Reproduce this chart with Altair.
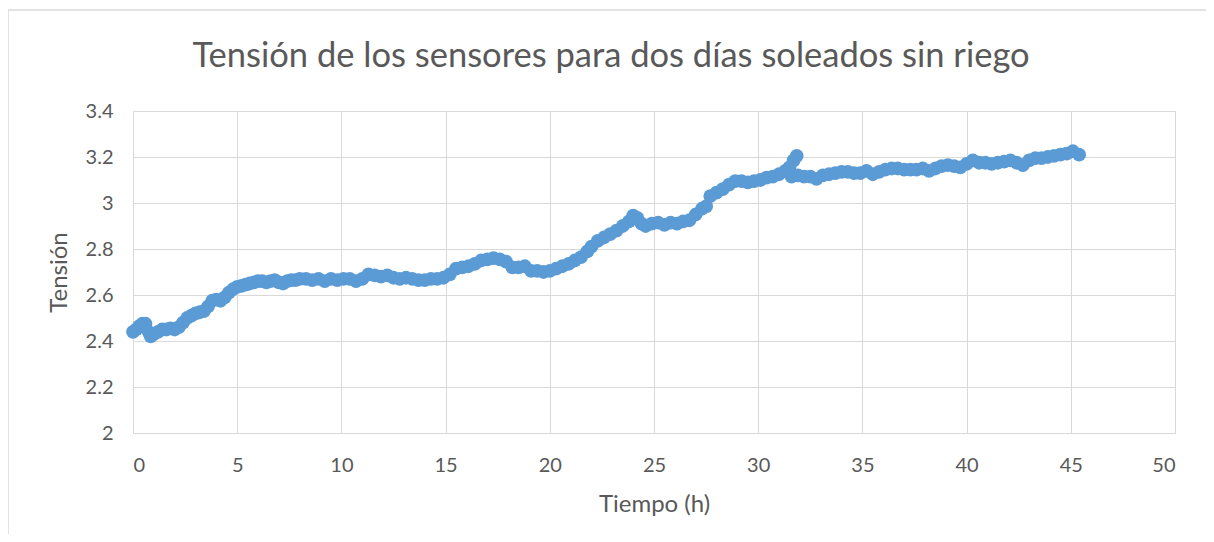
import altair as alt
import pandas as pd

tiempo = [0.0, 0.15, 0.3, 0.45, 0.6, 0.75, 0.85, 1.0, 1.2, 1.4, 1.6, 1.8, 2.0, 2.2, 2.4, 2.6, 2.8, 3.0, 3.2, 3.4,
          3.6, 3.8, 4.0, 4.2, 4.4, 4.6, 4.8, 5.0, 5.2, 5.4, 5.6, 5.8, 6.0, 6.2, 6.4, 6.6, 6.8, 7.0, 7.2, 7.4,
          7.6, 7.8, 8.0, 8.3, 8.6, 8.9, 9.2, 9.5, 9.8, 10.1, 10.4, 10.7, 11.0, 11.3, 11.6, 11.9, 12.2, 12.5, 12.8, 13.1,
          13.4, 13.7, 14.0, 14.3, 14.6, 14.9, 15.2, 15.5, 15.8, 16.1, 16.4, 16.7, 17.0, 17.3, 17.6, 17.9, 18.2, 18.5, 18.8, 19.1,
          19.4, 19.7, 20.0, 20.3, 20.6, 20.9, 21.2, 21.5, 21.8, 22.0, 22.3, 22.6, 22.9, 23.2, 23.5, 23.8, 24.0, 24.2, 24.4, 24.6,
          24.9, 25.2, 25.5, 25.8, 26.1, 26.4, 26.7, 27.0, 27.3, 27.5, 27.7, 28.0, 28.3, 28.6, 28.9, 29.2, 29.5, 29.8, 30.1, 30.4,
          30.7, 31.0, 31.3, 31.5, 31.7, 31.85, 31.6, 31.9, 32.2, 32.5, 32.8, 33.1, 33.4, 33.7, 34.0, 34.3, 34.6, 34.9, 35.2, 35.5,
          35.8, 36.1, 36.4, 36.7, 37.0, 37.3, 37.6, 37.9, 38.2, 38.5, 38.8, 39.1, 39.4, 39.7, 40.0, 40.3, 40.6, 40.9, 41.2, 41.5,
          41.8, 42.1, 42.4, 42.7, 43.0, 43.3, 43.6, 43.9, 44.2, 44.5, 44.8, 45.1, 45.4]

tension = [2.44, 2.45, 2.465, 2.475, 2.475, 2.44, 2.42, 2.43, 2.44, 2.45, 2.45, 2.455, 2.45, 2.46, 2.48, 2.50, 2.51, 2.52, 2.525, 2.53,
           2.55, 2.575, 2.58, 2.575, 2.59, 2.61, 2.625, 2.635, 2.64, 2.645, 2.65, 2.655, 2.66, 2.66, 2.655, 2.66, 2.665, 2.655, 2.65, 2.66,
           2.665, 2.665, 2.67, 2.67, 2.665, 2.67, 2.66, 2.67, 2.665, 2.67, 2.67, 2.66, 2.67, 2.69, 2.685, 2.68, 2.685, 2.675, 2.67, 2.675,
           2.67, 2.665, 2.665, 2.67, 2.67, 2.675, 2.69, 2.715, 2.72, 2.725, 2.735, 2.75, 2.755, 2.76, 2.755, 2.745, 2.72, 2.72, 2.725, 2.705,
           2.705, 2.70, 2.705, 2.715, 2.725, 2.735, 2.75, 2.765, 2.79, 2.81, 2.835, 2.85, 2.865, 2.88, 2.90, 2.92, 2.945, 2.935, 2.91, 2.90,
           2.91, 2.915, 2.905, 2.915, 2.91, 2.92, 2.925, 2.95, 2.975, 2.985, 3.03, 3.045, 3.06, 3.08, 3.095, 3.095, 3.09, 3.095, 3.10, 3.11,
           3.115, 3.125, 3.14, 3.155, 3.185, 3.205, 3.115, 3.12, 3.115, 3.115, 3.105, 3.12, 3.125, 3.13, 3.135, 3.135, 3.13, 3.13, 3.14, 3.125,
           3.135, 3.145, 3.15, 3.15, 3.145, 3.145, 3.145, 3.15, 3.14, 3.15, 3.16, 3.165, 3.16, 3.155, 3.17, 3.185, 3.175, 3.175, 3.17, 3.175,
           3.18, 3.185, 3.175, 3.165, 3.185, 3.195, 3.195, 3.20, 3.205, 3.21, 3.215, 3.225, 3.21]

x_ticks = [0, 5, 10, 15, 20, 25, 30, 35, 40, 45, 50]
y_ticks = [2, 2.2, 2.4, 2.6, 2.8, 3, 3.2, 3.4]
chart_title = "Tensión de los sensores para dos días soleados sin riego"

df = pd.DataFrame({"Tiempo": tiempo, "Tension": tension})

FONT = "Lato"
GRAY = "#595959"
GRID = "#D9D9D9"

points = alt.Chart(df).mark_circle(size=190, opacity=1, color="#5B9BD5").encode(
    x=alt.X("Tiempo:Q",
            scale=alt.Scale(domain=[0, 50], nice=False, zero=False),
            axis=alt.Axis(values=x_ticks, title="Tiempo (h)", grid=True, gridColor=GRID,
                          domainColor=GRID, ticks=False, labelPadding=22, labelFontSize=20,
                          labelColor=GRAY, titleColor=GRAY, titleFontSize=24, titleFontWeight=400,
                          titlePadding=17, labelFont=FONT, titleFont=FONT)),
    y=alt.Y("Tension:Q",
            scale=alt.Scale(domain=[2, 3.4], nice=False, zero=False),
            axis=alt.Axis(values=y_ticks, title="Tensión", format="~g", grid=True, gridColor=GRID,
                          domainColor=GRID, ticks=False, labelPadding=20, labelFontSize=20,
                          labelColor=GRAY, titleColor=GRAY, titleFontSize=24, titleFontWeight=400,
                          titlePadding=14, labelFont=FONT, titleFont=FONT)),
)

border = alt.Chart(pd.DataFrame({"a": [0]})).mark_rect(
    fill=None, fillOpacity=0, stroke=GRID, strokeWidth=1.5, clip=False
).encode(
    x=alt.value(-125), x2=alt.value(1100), y=alt.value(-101), y2=alt.value(460)
)

title_text = alt.Chart(pd.DataFrame({"t": [chart_title]})).mark_text(
    font=FONT, fontSize=34.5, fontWeight=400, color=GRAY, align="center", baseline="alphabetic", clip=False
).encode(
    text="t:N", x=alt.value(478), y=alt.value(-44)
)

chart = alt.layer(border, points, title_text).properties(
    width=1042,
    height=322,
    padding={"left": 125, "top": 103, "right": 31, "bottom": 101},
    autosize=alt.AutoSizeParams(type="none"),
).configure_view(stroke=GRID, strokeWidth=1)

chart.save("out.html", embed_options={"renderer": "svg", "actions": False})
